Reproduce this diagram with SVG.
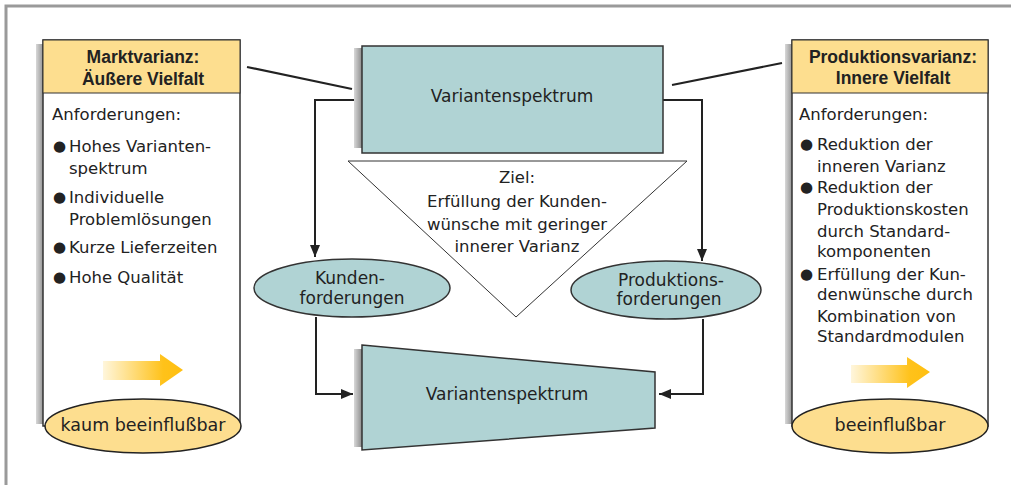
<svg xmlns="http://www.w3.org/2000/svg" width="1011" height="485" viewBox="0 0 1011 485">
  <defs>
    <linearGradient id="shade" x1="0" y1="0" x2="1" y2="0">
      <stop offset="0" stop-color="#d8d8d8"/>
      <stop offset="1" stop-color="#8c8c8c"/>
    </linearGradient>
    <linearGradient id="glow" x1="0" y1="0" x2="1" y2="0">
      <stop offset="0" stop-color="#fff6dc"/>
      <stop offset="0.75" stop-color="#ffc21a"/>
      <stop offset="1" stop-color="#ffbf10"/>
    </linearGradient>
    <marker id="arrow" markerWidth="12" markerHeight="10" refX="12" refY="5" orient="auto" markerUnits="userSpaceOnUse">
      <path d="M0,0 L12,5 L0,10 Z" fill="#222"/>
    </marker>
  </defs>
  <style>
    .frame { fill: none; stroke: #9a9a9a; stroke-width: 3; }
    .panel { fill: #fff; stroke: #333; stroke-width: 1.5; }
    .head { fill: #fdde8f; stroke: #333; stroke-width: 1; }
    .foot { fill: #fdde8f; stroke: #222; stroke-width: 1.5; }
    .teal { fill: #b0d3d4; stroke: #333; stroke-width: 1.5; }
    .shade { fill: url(#shade); }
    .goal { fill: #fff; stroke: #333; stroke-width: 1; }
    .hd { font-family: "Liberation Sans", Arial, sans-serif; font-weight: bold; font-size: 17.5px; fill: #222; text-anchor: middle; }
    .tx { font-family: "DejaVu Sans", "Liberation Sans", sans-serif; font-size: 16.5px; fill: #222; }
    .bul { font-family: "DejaVu Sans", sans-serif; font-size: 15px; fill: #222; }
    .mid { text-anchor: middle; }
    .lg { font-size: 17px; }
    .link { fill: none; stroke: #222; stroke-width: 2; }
    .tie { fill: none; stroke: #222; stroke-width: 2.2; }
  </style>

  <rect class="frame" x="6" y="6" width="1020" height="500"/>

  <!-- connectors -->
  <g id="connectors">
    <line class="tie" x1="247" y1="67" x2="352" y2="89"/>
    <line class="tie" x1="672" y1="85" x2="782" y2="63"/>
    <polyline class="link" points="354,100 315,100 315,257" marker-end="url(#arrow)"/>
    <polyline class="link" points="663,100 702,100 702,261" marker-end="url(#arrow)"/>
    <polyline class="link" points="316,317 316,394 353,394" marker-end="url(#arrow)"/>
    <polyline class="link" points="703,319 703,394 659,394" marker-end="url(#arrow)"/>
  </g>

  <!-- left panel: market variance -->
  <g id="markt">
    <rect class="shade" x="36" y="44" width="8" height="380"/>
    <rect class="panel" x="43" y="40" width="197" height="386"/>
    <rect class="head" x="43" y="40" width="197" height="53"/>
    <text class="hd" x="143" y="63">Marktvarianz:</text>
    <text class="hd" x="143" y="85">Äußere Vielfalt</text>
    <text class="tx" x="52" y="120">Anforderungen:</text>
    <text class="bul" x="53" y="151">●</text>
    <text class="tx" x="69" y="152">Hohes Varianten-</text>
    <text class="tx" x="69" y="174">spektrum</text>
    <text class="bul" x="53" y="202">●</text>
    <text class="tx" x="69" y="203">Individuelle</text>
    <text class="tx" x="69" y="225">Problemlösungen</text>
    <text class="bul" x="53" y="252">●</text>
    <text class="tx" x="69" y="253">Kurze Lieferzeiten</text>
    <text class="bul" x="53" y="282">●</text>
    <text class="tx" x="69" y="283">Hohe Qualität</text>
    <path d="M103,361 H160 V354 L183,370 L160,386 V380 H103 Z" fill="url(#glow)"/>
    <ellipse class="foot" cx="143" cy="426" rx="98" ry="27"/>
    <text class="tx mid" x="143" y="431" style="font-size:17.5px">kaum beeinflußbar</text>
  </g>

  <!-- right panel: production variance -->
  <g id="produktion">
    <rect class="shade" x="785" y="44" width="8" height="380"/>
    <rect class="panel" x="792" y="40" width="196" height="386"/>
    <rect class="head" x="792" y="40" width="196" height="53"/>
    <text class="hd" x="893" y="63">Produktionsvarianz:</text>
    <text class="hd" x="893" y="84">Innere Vielfalt</text>
    <text class="tx" x="799" y="120">Anforderungen:</text>
    <text class="bul" x="800" y="149">●</text>
    <text class="tx" x="817" y="150">Reduktion der</text>
    <text class="tx" x="817" y="172">inneren Varianz</text>
    <text class="bul" x="800" y="192">●</text>
    <text class="tx" x="817" y="193">Reduktion der</text>
    <text class="tx" x="817" y="215">Produktionskosten</text>
    <text class="tx" x="817" y="237">durch Standard-</text>
    <text class="tx" x="817" y="257">komponenten</text>
    <text class="bul" x="800" y="279">●</text>
    <text class="tx" x="817" y="280">Erfüllung der Kun-</text>
    <text class="tx" x="817" y="300">denwünsche durch</text>
    <text class="tx" x="817" y="322">Kombination von</text>
    <text class="tx" x="817" y="342">Standardmodulen</text>
    <path d="M851,365 H907 V357 L930,372 L907,388 V383 H851 Z" fill="url(#glow)"/>
    <ellipse class="foot" cx="890" cy="426" rx="98" ry="27"/>
    <text class="tx mid" x="890" y="431" style="font-size:17.5px">beeinflußbar</text>
  </g>

  <!-- upper variant spectrum -->
  <g id="spektrum-oben">
    <rect class="shade" x="354" y="48" width="8" height="100"/>
    <rect class="teal" x="362" y="46" width="301" height="107"/>
    <text class="tx mid lg" x="512" y="102">Variantenspektrum</text>
  </g>

  <!-- goal triangle -->
  <g id="ziel">
    <polygon class="goal" points="348,161 687,161 516,317"/>
    <text class="tx mid" x="517" y="183">Ziel:</text>
    <text class="tx mid" x="517" y="207">Erfüllung der Kunden-</text>
    <text class="tx mid" x="517" y="230">wünsche mit geringer</text>
    <text class="tx mid" x="517" y="252">innerer Varianz</text>
  </g>

  <!-- customer requirements -->
  <g id="kunden">
    <ellipse class="teal" cx="352" cy="288" rx="98" ry="29"/>
    <text class="tx mid lg" x="350" y="284">Kunden-</text>
    <text class="tx mid lg" x="352" y="304">forderungen</text>
  </g>

  <!-- production requirements -->
  <g id="produktionsforderungen">
    <ellipse class="teal" cx="666" cy="290" rx="95" ry="29"/>
    <text class="tx mid lg" x="671" y="286">Produktions-</text>
    <text class="tx mid lg" x="669" y="305">forderungen</text>
  </g>

  <!-- lower variant spectrum -->
  <g id="spektrum-unten">
    <rect class="shade" x="354" y="349" width="8" height="98"/>
    <polygon class="teal" points="362,345 655,372 655,428 362,450"/>
    <text class="tx mid lg" x="507" y="400">Variantenspektrum</text>
  </g>
</svg>
